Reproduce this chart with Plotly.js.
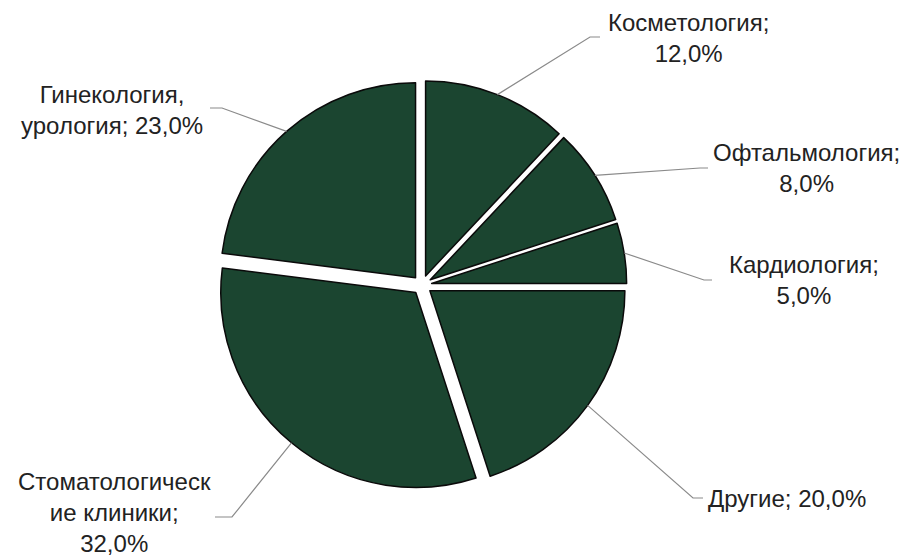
<!DOCTYPE html>
<html>
<head>
<meta charset="utf-8">
<script src="https://cdn.plot.ly/plotly-3.0.1.min.js"></script>
<style>html,body{margin:0;padding:0;background:#fff;}#chart{width:906px;height:558px;}</style>
</head>
<body>
<div id="chart"></div>
<script>
// ---- data ----
const categories = ["Косметология", "Офтальмология", "Кардиология", "Другие", "Стоматологические клиники", "Гинекология, урология"];
const shares = [12.0, 8.0, 5.0, 20.0, 32.0, 23.0];
const labelTexts = ["Косметология;<br>12,0%", "Офтальмология;<br>8,0%", "Кардиология;<br>5,0%", "Другие; 20,0%", "Стоматологическ<br>ие клиники;<br>32,0%", "Гинекология,<br>урология; 23,0%"];

// ---- layout constants (pixels) ----
const W = 906, H = 558;
const cx = 422, cy = 285, r = 195, pull = 0.05;
const R = r * (1 + pull);
// label text centres and leader elbows / ends
const labelPos = [
  {x: 688, y: 38, anchor: "center", elbow: [590, 37], end: [600, 37]},
  {x: 806, y: 168, anchor: "center", elbow: [700, 168], end: [708, 168]},
  {x: 804, y: 280, anchor: "center", elbow: [704, 280], end: [712, 280]},
  {x: 706, y: 498, anchor: "left", elbow: [693, 498], end: [703, 498]},
  {x: 114, y: 512, anchor: "center", elbow: [232, 517], end: [215, 517]},
  {x: 112, y: 110, anchor: "center", elbow: [222, 108], end: [210, 108]}
];

const px = x => x / W;
const py = y => 1 - y / H;

const total = shares.reduce((a, b) => a + b, 0);
let cum = 0;
const shapes = [];
const annotations = [];
shares.forEach((v, i) => {
  const mid = (cum + v / 2) / total * 2 * Math.PI;
  cum += v;
  const dist = r * (1 + pull);
  const sx = cx + dist * Math.sin(mid);
  const sy = cy - dist * Math.cos(mid);
  const L = labelPos[i];
  shapes.push({
    type: "path", xref: "paper", yref: "paper",
    path: `M ${px(sx)} ${py(sy)} L ${px(L.elbow[0])} ${py(L.elbow[1])} L ${px(L.end[0])} ${py(L.end[1])}`,
    line: {color: "#8a8a8a", width: 1.2}
  });
  annotations.push({
    xref: "paper", yref: "paper", x: px(L.x), y: py(L.y),
    xanchor: L.anchor, yanchor: "middle", align: "center",
    text: labelTexts[i], showarrow: false,
    font: {family: "Liberation Sans, Arial, sans-serif", size: 24, color: "#222222"}
  });
});

const trace = {
  type: "pie",
  labels: categories,
  values: shares,
  sort: false,
  direction: "clockwise",
  rotation: 0,
  pull: shares.map(() => pull),
  textinfo: "none",
  hoverinfo: "label+percent",
  marker: {colors: shares.map(() => "#1b4530"), line: {color: "#0a0a0a", width: 1.5}},
  domain: {x: [(cx - R) / W, (cx + R) / W], y: [(H - cy - R) / H, (H - cy + R) / H]},
  showlegend: false
};

Plotly.newPlot("chart", [trace], {
  width: W, height: H,
  margin: {l: 0, r: 0, t: 0, b: 0},
  paper_bgcolor: "#fff",
  showlegend: false,
  shapes: shapes,
  annotations: annotations
}, {staticPlot: true});
</script>
</body>
</html>
